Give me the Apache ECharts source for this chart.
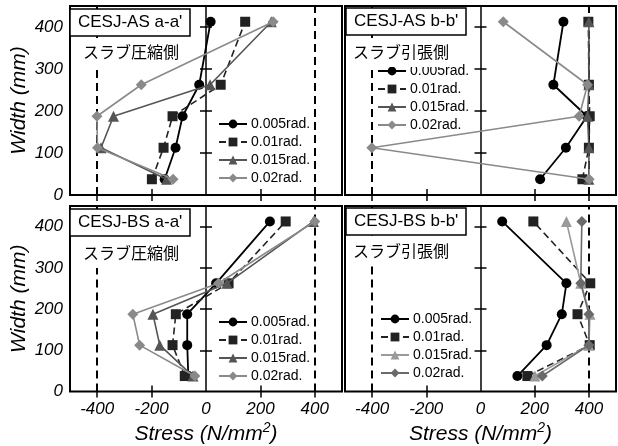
<!DOCTYPE html>
<html><head><meta charset="utf-8">
<script src="https://cdn.jsdelivr.net/npm/echarts@6/dist/echarts.min.js"></script>
<style>html,body{margin:0;padding:0;background:#fff}#c{width:618px;height:446px}</style>
</head><body><div id="c"></div>
<script>
// ---- data ----
const widths = [37.5, 112.5, 187.5, 262.5, 412.5];
const rotations = ['0.005rad.', '0.01rad.', '0.015rad.', '0.02rad.'];
const panelTitles = ["CESJ-AS a-a'", "CESJ-AS b-b'", "CESJ-BS a-a'", "CESJ-BS b-b'"];
const panelSides = ['スラブ圧縮側', 'スラブ引張側', 'スラブ圧縮側', 'スラブ引張側'];
const xTickLabels = [-400, -200, 0, 200, 400];
const xTickMarks = [-400, -200, 200, 400];
const yTickLabels = [0, 100, 200, 300, 400];
const yTickMarks = [100, 200, 300, 400];
const refLines = [-400, 0, 400];

// stress values (N/mm2) at each width, bottom to top
const asA_r005 = [-152, -112, -86, -25, 17];
const asA_r01  = [-199, -156, -123, 54, 144];
const asA_r015 = [-145, -386, -340, 15, 240];
const asA_r02  = [-121, -399, -401, -238, 247];

const asB_r005 = [220, 315, 393, 269, 306];
const asB_r01  = [376, 400, 403, 400, 398];
const asB_r015 = [400, 400, 395, 400, 400];
const asB_r02  = [401, -401, 364, 395, 84];

const bsA_r005 = [-65, -69, -69, 37, 235];
const bsA_r01  = [-78, -123, -111, 83, 293];
const bsA_r015 = [-48, -170, -195, 77, 395];
const bsA_r02  = [-41, -244, -269, 46, 400];

const bsB_r005 = [136, 244, 300, 317, 80];
const bsB_r01  = [173, 403, 358, 405, 195];
const bsB_r015 = [201, 400, 404, 370, 317];
const bsB_r02  = [228, 400, 400, 370, 374];

const panels = [
  [asA_r005, asA_r01, asA_r015, asA_r02],
  [asB_r005, asB_r01, asB_r015, asB_r02],
  [bsA_r005, bsA_r01, bsA_r015, bsA_r02],
  [bsB_r005, bsB_r01, bsB_r015, bsB_r02]
];

// ---- styles / layout ----
const FONT = 'Liberation Sans, Arial, sans-serif';
const JFONT = 'Noto Sans CJK JP, sans-serif';
const baseStyles = [
  {symbol: 'circle', size: 10, color: '#000', type: 'solid', width: 1.8},
  {symbol: 'rect', size: 10, color: '#222', type: [7, 4], width: 1.6},
  {symbol: 'triangle', size: 11, color: '#555', type: 'solid', width: 1.6},
  {symbol: 'diamond', size: 11, color: '#8a8a8a', type: 'solid', width: 1.6}
];
const panelColorOverride = {3: {2: '#9a9a9a', 3: '#6a6a6a'}};
const grids = [
  {left: 70, top: 6, width: 272, height: 189},
  {left: 345, top: 6, width: 271, height: 189},
  {left: 70, top: 206, width: 272, height: 188},
  {left: 345, top: 206, width: 271, height: 188}
];
const legendPos = [
  {left: 218, top: 117}, {left: 377, top: 64},
  {left: 218, top: 315}, {left: 380, top: 312}
];
const titlePos = [
  {left: 70, top: 9}, {left: 346, top: 8}, {left: 70, top: 209}, {left: 346, top: 208}
];
const sidePos = [
  {left: 81, top: 38}, {left: 351, top: 38}, {left: 81, top: 239}, {left: 351, top: 237}
];

const option = {
  animation: false,
  backgroundColor: '#fff',
  grid: grids.map(g => Object.assign({show: true, borderColor: '#000', borderWidth: 2, backgroundColor: 'transparent'}, g)),
  title: [],
  legend: [],
  xAxis: [],
  yAxis: [],
  series: []
};

for (let p = 0; p < 4; p++) {
  const isBottom = p >= 2, isLeft = p % 2 === 0;
  // axes
  option.xAxis.push({
    type: 'value', gridIndex: p, min: -500, max: 500, position: 'bottom',
    axisLine: {show: false}, splitLine: {show: false},
    axisTick: {show: true, inside: true, length: 6, customValues: xTickMarks, lineStyle: {color: '#000', width: 1.5}},
    axisLabel: {show: isBottom, customValues: xTickLabels, margin: 9, fontSize: 17, fontStyle: 'italic', fontFamily: FONT, color: '#000'},
    name: isBottom ? 'Stress (N/mm{s|2})' : '', nameLocation: 'middle', nameGap: 30,
    nameTextStyle: {fontSize: 21, fontStyle: 'italic', fontFamily: FONT, color: '#000',
      rich: {s: {fontSize: 14, fontStyle: 'italic', fontFamily: FONT, color: '#000', verticalAlign: 'top', padding: [0, 0, 12, 0]}}}
  });
  option.xAxis.push({
    type: 'value', gridIndex: p, min: -500, max: 500, position: 'top',
    axisLine: {show: false}, splitLine: {show: false},
    axisTick: {show: true, inside: true, length: 6, customValues: xTickMarks, lineStyle: {color: '#000', width: 1.5}},
    axisLabel: {show: false}
  });
  option.yAxis.push({
    type: 'value', gridIndex: p, min: 0, max: 450, position: 'left',
    axisLine: {show: false}, splitLine: {show: false},
    axisTick: {show: true, inside: true, length: 6, customValues: yTickMarks, lineStyle: {color: '#000', width: 1.5}},
    axisLabel: {show: isLeft, customValues: yTickLabels, margin: 7, fontSize: 17, fontStyle: 'italic', fontFamily: FONT, color: '#000'},
    name: isLeft ? 'Width (mm)' : '', nameLocation: 'middle', nameGap: 40,
    nameTextStyle: {fontSize: 21, fontStyle: 'italic', fontFamily: FONT, color: '#000'}
  });
  option.yAxis.push({
    type: 'value', gridIndex: p, min: 0, max: 450, position: 'right',
    axisLine: {show: false}, splitLine: {show: false},
    axisTick: {show: true, inside: true, length: 6, customValues: yTickMarks, lineStyle: {color: '#000', width: 1.5}},
    axisLabel: {show: false}
  });
  // reference lines
  option.series.push({
    type: 'line', xAxisIndex: p * 2, yAxisIndex: p * 2, data: [], silent: true,
    markLine: {
      silent: true, symbol: 'none', z: 1, label: {show: false}, animation: false,
      data: refLines.map(v => ({xAxis: v, lineStyle: {color: '#000', width: v === 0 ? 1.5 : 2, type: v === 0 ? 'solid' : [8, 5]}}))
    }
  });
  // data series
  const names = [];
  for (let s = 0; s < 4; s++) {
    const st = baseStyles[s];
    const col = (panelColorOverride[p] && panelColorOverride[p][s]) || st.color;
    const name = p + '_' + rotations[s];
    names.push(name);
    option.series.push({
      type: 'line', name: name, xAxisIndex: p * 2, yAxisIndex: p * 2, z: 3 + s,
      data: panels[p][s].map((v, i) => [v, widths[i]]),
      symbol: st.symbol, symbolSize: st.size,
      itemStyle: {color: col},
      lineStyle: {color: col, width: st.width, type: st.type},
      emphasis: {disabled: true}
    });
  }
  option.legend.push({
    data: names, orient: 'vertical', left: legendPos[p].left, top: legendPos[p].top,
    padding: 0, itemWidth: 28, itemHeight: 11, itemGap: 4, selectedMode: false,
    formatter: n => n.split('_')[1],
    textStyle: {fontSize: 14, fontFamily: FONT, color: '#000', padding: [0, 0, 0, -1]}
  });
  option.title.push({
    text: panelTitles[p], left: titlePos[p].left, top: titlePos[p].top,
    padding: [4, 8, 4, 8], borderColor: '#000', borderWidth: 1.5, backgroundColor: '#fff',
    textStyle: {fontSize: 17, fontWeight: 'normal', fontFamily: FONT, color: '#000', lineHeight: 19}
  });
  option.title.push({
    text: panelSides[p], left: sidePos[p].left, top: sidePos[p].top,
    padding: [5, 2, 6, 2], backgroundColor: '#fff',
    textStyle: {fontSize: 16, fontWeight: 'normal', fontFamily: JFONT, color: '#000', lineHeight: 18}
  });
}

const chart = echarts.init(document.getElementById('c'), null, {renderer: 'canvas'});
chart.setOption(option);
</script>
</body></html>
